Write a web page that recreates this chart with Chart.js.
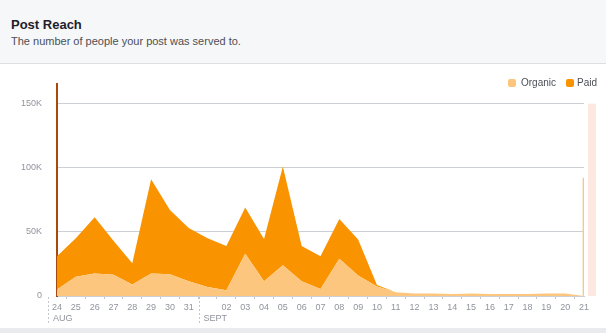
<!DOCTYPE html>
<html>
<head>
<meta charset="utf-8">
<script src="https://cdn.jsdelivr.net/npm/chart.js@4.4.0/dist/chart.umd.min.js"></script>
<style>
    html, body { margin: 0; padding: 0; }
    body { width: 606px; height: 333px; background: #e9ebee; position: relative; overflow: hidden; font-family: "Liberation Sans", Arial, Helvetica, sans-serif; }
    .header { position: absolute; left: 0; top: 0; width: 606px; height: 63px; background: #f6f7f9; border-bottom: 1px solid #dddfe2; }
    .title { position: absolute; left: 11px; top: 17px; font-size: 13px; font-weight: bold; color: #1d2129; }
    .subtitle { position: absolute; left: 11px; top: 35px; font-size: 11px; color: #4b4f56; }
    .panel { position: absolute; left: 0; top: 64px; width: 606px; height: 264px; background: #fff; }
    .legend { position: absolute; top: 77px; left: 0; font-size: 10px; color: #4b4f56; }
    .legend span { position: absolute; white-space: nowrap; }
    .legend i { position: absolute; width: 8px; height: 8px; border-radius: 2px; top: 2px; }
</style>
</head>
<body>
<div class="header">
    <div class="title">Post Reach</div>
    <div class="subtitle">The number of people your post was served to.</div>
</div>
<div class="panel"><canvas id="reachChart" width="606" height="264"></canvas></div>
<div class="legend">
    <i style="left:508px;background:#fdc67f"></i><span style="left:521px">Organic</span>
    <i style="left:566px;background:#fa9300"></i><span style="left:577px">Paid</span>
</div>
<script>
// Данные: 24 авг - 21 сент
const days = ['24', '25', '26', '27', '28', '29', '30', '31', '01', '02', '03', '04', '05', '06', '07',
    '08', '09', '10', '11', '12', '13', '14', '15', '16', '17', '18', '19', '20', '21'];
const organic = [5000, 15000, 17500, 16500, 9000, 17500, 17000, 11500, 7000, 4500, 33000, 11500, 24000, 11500, 5500,
    29000, 16000, 7500, 3000, 2000, 2000, 1500, 2000, 1500, 1500, 1500, 2000, 2000, 0];
const paid = [26000, 30000, 44000, 26500, 16500, 73500, 50000, 41500, 38000, 34500, 36000, 33000, 77000, 27500, 25500,
    31000, 28000, 1000, 0, 0, 0, 0, 0, 0, 0, 0, 0, 0, 0];
// последний день (неполный)
const lastDayOrganic = [null, null, null, null, null, null, null, null, null, null, null, null, null, null, null,
    null, null, null, null, null, null, null, null, null, null, null, null, null, 92000];
const yTicks = [0, 50000, 100000, 150000];
const yTickLabels = ['0', '50K', '100K', '150K'];
const months = ['AUG', 'SEPT'];
const monthStarts = ['24', '01'];

const gray = '#90949c';

// подписи месяцев и пунктирные разделители, подсветка последнего дня
const extrasPlugin = {
    id: 'extras',
    beforeDatasetsDraw(chart) {
        const {ctx, scales: {x, y}} = chart;
        const px = x.getPixelForValue(days.length - 1);
        ctx.save();
        ctx.fillStyle = '#fde8e1';
        ctx.fillRect(px + 4, y.getPixelForValue(150000), 8, y.getPixelForValue(0) - y.getPixelForValue(150000));
        ctx.restore();
    },
    afterDraw(chart) {
        const {ctx, scales: {x}} = chart;
        ctx.save();
        ctx.font = '9px "Liberation Sans", Arial, sans-serif';
        ctx.fillStyle = gray;
        ctx.textBaseline = 'middle';
        ctx.textAlign = 'left';
        months.forEach((m, i) => {
            const px = x.getPixelForValue(days.indexOf(monthStarts[i]));
            ctx.strokeStyle = '#c4c7cc';
            ctx.lineWidth = 1;
            ctx.setLineDash([2, 2]);
            ctx.beginPath();
            ctx.moveTo(Math.round(px - 9) + 0.5, x.top + 1);
            ctx.lineTo(Math.round(px - 9) + 0.5, x.top + 27);
            ctx.stroke();
            ctx.fillText(m, px - 4, x.top + 23);
        });
        ctx.restore();
    }
};

const ctx = document.getElementById('reachChart').getContext('2d');
const reachChart = new Chart(ctx, {
    type: 'line',
    data: {
        labels: days,
        datasets: [
            {
                label: 'Organic',
                data: organic,
                backgroundColor: '#fdc67f',
                borderColor: '#fdc67f',
                borderWidth: 0,
                fill: 'origin',
                pointRadius: 0,
                tension: 0
            },
            {
                label: 'Paid',
                data: paid,
                backgroundColor: '#fa9300',
                borderColor: '#fa9300',
                borderWidth: 0,
                fill: '-1',
                pointRadius: 0,
                tension: 0
            },
            {
                type: 'bar',
                label: 'Organic (today)',
                data: lastDayOrganic,
                backgroundColor: '#fdc67f',
                barThickness: 2,
                order: -1
            }
        ]
    },
    options: {
        responsive: false,
        animation: false,
        layout: { padding: { top: 19, right: 22, left: 0, bottom: 0 } },
        plugins: {
            legend: { display: false },
            tooltip: { enabled: false }
        },
        scales: {
            x: {
                offset: false,
                afterFit: s => { s.height = 32; },
                grid: { offset: true, drawOnChartArea: false, tickLength: 3, color: '#c4c7cc' },
                border: { color: '#ccd0d5' },
                ticks: {
                    autoSkip: false,
                    maxRotation: 0,
                    padding: 3,
                    color: gray,
                    font: { size: 9, family: '"Liberation Sans", Arial, sans-serif' },
                    callback: (v, i) => days[i] === '01' ? '' : days[i]
                }
            },
            y: {
                stacked: true,
                min: 0,
                max: 165000,
                afterFit: s => { s.width = 57; },
                afterBuildTicks: s => { s.ticks = yTicks.map(v => ({ value: v })); },
                grid: { drawTicks: false, color: '#ccd0d5' },
                border: { color: '#a9480c', width: 2 },
                ticks: {
                    padding: 15,
                    color: gray,
                    font: { size: 9, family: '"Liberation Sans", Arial, sans-serif' },
                    callback: v => yTickLabels[yTicks.indexOf(v)]
                }
            }
        }
    },
    plugins: [extrasPlugin]
});
</script>
</body>
</html>
